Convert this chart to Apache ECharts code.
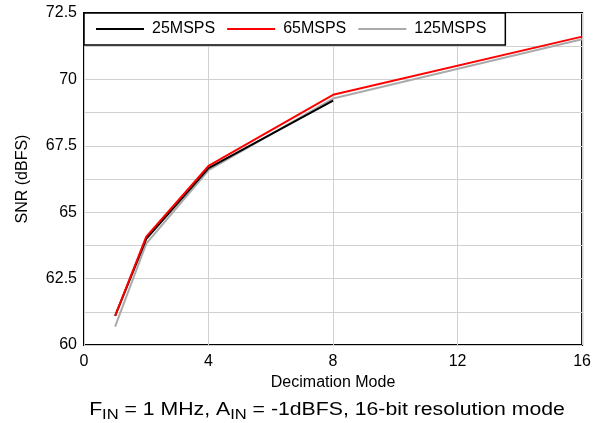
<!DOCTYPE html>
<html><head><meta charset="utf-8">
<script src="https://cdn.jsdelivr.net/npm/echarts@6/dist/echarts.min.js"></script>
<style>html,body{margin:0;padding:0;background:#fff}#c{width:594px;height:423px}</style>
</head><body><div id="c"></div>
<script>
const xValues = [1, 2, 4, 8, 16];
const snr25 = [61.1, 64.0, 66.66, 69.2];
const snr65 = [61.1, 64.08, 66.74, 69.42, 71.61];
const snr125 = [60.69, 63.82, 66.58, 69.28, 71.51];
const seriesNames = ['25MSPS', '65MSPS', '125MSPS'];
const xTicks = [0, 4, 8, 12, 16];
const yTicks = [60, 62.5, 65, 67.5, 70, 72.5];

const pair = (xs, ys) => ys.map((v, i) => [xs[i], v]);
const font = 'Liberation Sans, Arial, sans-serif';
const chart = echarts.init(document.getElementById('c'));
chart.setOption({
  animation: false,
  grid: {left: 84, right: 10, top: 13, bottom: 78, show: true, borderColor: '#000', borderWidth: 2, backgroundColor: 'transparent'},
  legend: {
    data: seriesNames, left: 84, top: 13, orient: 'horizontal',
    backgroundColor: '#fff', borderColor: '#000', borderWidth: 1.5, borderRadius: 0,
    padding: [8, 19, 8, 12], itemGap: 12, itemWidth: 48, itemHeight: 2, icon: 'rect',
    textStyle: {fontFamily: font, fontSize: 16, color: '#000', padding: [0, 0, 0, 3]}
  },
  xAxis: {
    type: 'value', min: 0, max: 16, interval: 4,
    name: 'Decimation Mode', nameLocation: 'middle', nameGap: 27,
    nameTextStyle: {fontFamily: font, fontSize: 16, color: '#000'},
    axisLine: {show: false}, axisTick: {show: false},
    axisLabel: {fontFamily: font, fontSize: 16, color: '#000', margin: 9,
      formatter: v => xTicks.includes(v) ? String(v) : ''},
    splitLine: {show: true, lineStyle: {color: '#d0d0d0', width: 1}}
  },
  yAxis: {
    type: 'value', min: 60, max: 72.5, interval: 1.25,
    name: 'SNR (dBFS)', nameLocation: 'middle', nameGap: 53,
    nameTextStyle: {fontFamily: font, fontSize: 16, color: '#000'},
    axisLine: {show: false}, axisTick: {show: false},
    axisLabel: {fontFamily: font, fontSize: 16, color: '#000', margin: 7,
      formatter: v => yTicks.some(t => Math.abs(t - v) < 1e-6) ? String(v) : ''},
    splitLine: {show: true, lineStyle: {color: '#d0d0d0', width: 1}}
  },
  series: [
    {name: seriesNames[2], type: 'line', data: pair(xValues, snr125), symbol: 'none', color: '#aaaaaa', lineStyle: {width: 2, color: '#aaaaaa'}},
    {name: seriesNames[0], type: 'line', data: pair(xValues, snr25), symbol: 'none', color: '#000', lineStyle: {width: 2, color: '#000'}},
    {name: seriesNames[1], type: 'line', data: pair(xValues, snr65), symbol: 'none', color: '#ff0000', lineStyle: {width: 2, color: '#ff0000'}}
  ],
  graphic: [{
    type: 'text', x: 327, y: 410, scaleX: 1.18,
    style: {
      x: 0, y: 0, align: 'center', verticalAlign: 'middle',
      text: 'F{s|IN} = 1 MHz, A{s|IN} = -1dBFS, 16-bit resolution mode',
      fontFamily: font, fontSize: 18, fill: '#000',
      rich: {s: {fontFamily: font, fontSize: 14, padding: [10, 0, 0, 0], fill: '#000'}}
    }
  }]
});
</script></body></html>
